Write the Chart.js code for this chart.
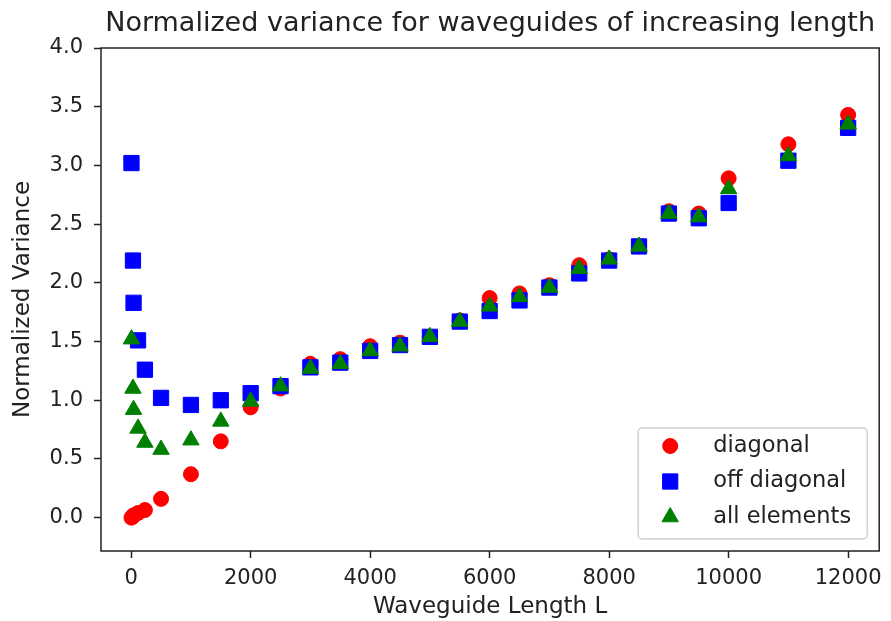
<!DOCTYPE html>
<html>
<head>
<meta charset="utf-8">
<script src="https://cdn.jsdelivr.net/npm/chart.js@4"></script>
<style>
  html, body { margin: 0; padding: 0; background: #fff; }
</style>
</head>
<body>
<canvas id="chart" width="891" height="621"></canvas>
<script>
const titleText = "Normalized variance for waveguides of increasing length";
const xAxisTitle = "Waveguide Length L";
const yAxisTitle = "Normalized Variance";
const seriesNames = ["diagonal", "off diagonal", "all elements"];

// waveguide lengths (x) shared by all three series
const lengths = [5, 30, 40, 115, 230, 500, 1000, 1500, 2000, 2500, 3000, 3500, 4000, 4500,
                 5000, 5500, 6000, 6500, 7000, 7500, 8000, 8500, 9000, 9500, 10000, 11000, 12000];

const diagonal = [0.00, 0.01, 0.02, 0.04, 0.065, 0.16, 0.37, 0.65, 0.94, 1.10, 1.31, 1.35, 1.46, 1.49,
                  1.54, 1.68, 1.87, 1.91, 1.98, 2.15, 2.20, 2.31, 2.61, 2.59, 2.89, 3.18, 3.43];
const offDiagonal = [3.02, 2.19, 1.83, 1.51, 1.26, 1.02, 0.96, 1.00, 1.06, 1.12, 1.28, 1.32, 1.42, 1.47,
                     1.54, 1.67, 1.76, 1.85, 1.96, 2.08, 2.19, 2.31, 2.59, 2.55, 2.68, 3.04, 3.32];
const allElements = [1.52, 1.10, 0.92, 0.76, 0.64, 0.58, 0.66, 0.82, 0.99, 1.12, 1.27, 1.31, 1.42, 1.46,
                     1.54, 1.67, 1.80, 1.88, 1.96, 2.12, 2.20, 2.31, 2.59, 2.56, 2.80, 3.08, 3.35];

const xTicks = [0, 2000, 4000, 6000, 8000, 10000, 12000];
const yTicks = [0.0, 0.5, 1.0, 1.5, 2.0, 2.5, 3.0, 3.5, 4.0];

const textColor = "#222";
Chart.defaults.font.family = "'DejaVu Sans', sans-serif";
Chart.defaults.color = textColor;

const toPoints = (ys) => ys.map((y, i) => ({ x: lengths[i], y: y }));

const series = [
    { label: seriesNames[0], data: diagonal, color: "#ff0000", style: "circle", radius: 7.5, order: 3 },
    { label: seriesNames[1], data: offDiagonal, color: "#0000ff", style: "rect", radius: 10.8, order: 2 },
    { label: seriesNames[2], data: allElements, color: "#008000", style: "triangle", radius: 9.5, order: 1 },
];

const drawMarker = (ctx, style, x, y, r) => {
    ctx.beginPath();
    if (style === "circle") {
        ctx.arc(x, y, r, 0, Math.PI * 2);
    } else if (style === "rect") {
        const s = r * Math.SQRT1_2;
        ctx.rect(x - s, y - s, 2 * s, 2 * s);
    } else {
        ctx.moveTo(x, y - r);
        ctx.lineTo(x + r * 0.866, y + r / 2);
        ctx.lineTo(x - r * 0.866, y + r / 2);
        ctx.closePath();
    }
    ctx.fill();
    ctx.stroke();
};

// axes box (all four spines) + legend in the lower right corner
const framePlugin = {
    id: "frame",
    afterDraw(chart) {
        const { ctx, chartArea } = chart;
        ctx.save();
        ctx.strokeStyle = textColor;
        ctx.lineWidth = 1.5;
        ctx.strokeRect(chartArea.left, chartArea.top,
            chartArea.right - chartArea.left, chartArea.bottom - chartArea.top);

        const w = 229, h = 111;
        const left = chartArea.right - 12 - w;
        const top = chartArea.bottom - 12 - h;
        ctx.beginPath();
        ctx.roundRect(left, top, w, h, 4);
        ctx.fillStyle = "rgba(255,255,255,0.8)";
        ctx.fill();
        ctx.strokeStyle = "#d0d0d0";
        ctx.lineWidth = 1.5;
        ctx.stroke();

        ctx.font = "22.5px 'DejaVu Sans', sans-serif";
        ctx.textBaseline = "middle";
        ctx.textAlign = "left";
        series.forEach((s, i) => {
            const y = top + 18 + i * 35.5;
            ctx.fillStyle = s.color;
            ctx.strokeStyle = s.color;
            ctx.lineWidth = 1;
            drawMarker(ctx, s.style, left + 32, y, s.radius);
            ctx.fillStyle = textColor;
            ctx.fillText(s.label, left + 75, y);
        });
        ctx.restore();
    },
};

new Chart(document.getElementById("chart"), {
    type: "scatter",
    data: {
        datasets: series.map((s) => ({
            label: s.label,
            data: toPoints(s.data),
            pointStyle: s.style,
            pointRadius: s.radius,
            pointBackgroundColor: s.color,
            pointBorderColor: s.color,
            pointBorderWidth: 1,
            order: s.order,
        })),
    },
    options: {
        responsive: false,
        animation: false,
        events: [],
        layout: { padding: { top: 0, right: 11, bottom: 0, left: 0 } },
        plugins: {
            legend: { display: false },
            tooltip: { enabled: false },
            title: {
                display: true,
                text: titleText,
                fullSize: false,
                color: textColor,
                font: { size: 27, weight: "normal" },
                padding: { top: 8, bottom: 7.6 },
            },
        },
        scales: {
            x: {
                type: "linear",
                min: -505,
                max: 12520,
                afterBuildTicks: (scale) => { scale.ticks = xTicks.map((v) => ({ value: v })); },
                afterFit: (scale) => { scale.height = 70; },
                ticks: { font: { size: 21 }, padding: 8, maxRotation: 0, autoSkip: false,
                         callback: (v) => String(v) },
                grid: { drawOnChartArea: false, drawTicks: true, tickLength: 7, tickWidth: 1.5, tickColor: textColor },
                border: { display: false },
                title: { display: true, text: xAxisTitle, font: { size: 23 }, padding: { top: 0, bottom: 0 } },
            },
            y: {
                type: "linear",
                min: -0.284,
                max: 4.0,
                afterBuildTicks: (scale) => { scale.ticks = yTicks.map((v) => ({ value: v })); },
                afterFit: (scale) => { scale.width = 101; },
                ticks: { font: { size: 21 }, padding: 11, callback: (v) => Number(v).toFixed(1) },
                grid: { drawOnChartArea: false, drawTicks: true, tickLength: 7, tickWidth: 1.5, tickColor: textColor },
                border: { display: false },
                title: { display: true, text: yAxisTitle, font: { size: 23 }, padding: { top: 9, bottom: 0 } },
            },
        },
    },
    plugins: [framePlugin],
});
</script>
</body>
</html>
